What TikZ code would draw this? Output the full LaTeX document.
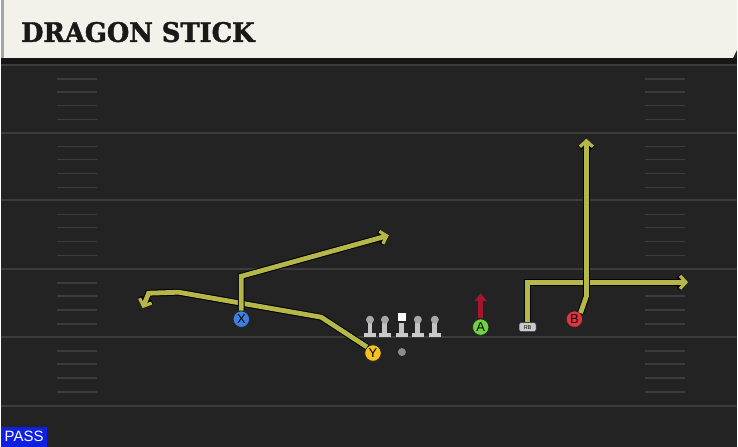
\documentclass[tikz,border=0pt]{standalone}
\usepackage{fontspec}
\setsansfont{Liberation Sans}
\newfontfamily\titlefont[BoldFeatures={FakeBold=1.5}]{DejaVu Serif Condensed}
\usepackage{tikz}
\usetikzlibrary{arrows.meta}
\usetikzlibrary{positioning}
\usetikzlibrary{calc}

\definecolor{fieldbg}{RGB}{35,35,35}
\definecolor{shadowbg}{RGB}{22,22,22}
\definecolor{yardgrey}{RGB}{60,60,60}
\definecolor{headbg}{RGB}{244,241,234}
\definecolor{routecol}{RGB}{181,184,72}
\definecolor{xblue}{RGB}{62,128,226}
\definecolor{yyellow}{RGB}{242,194,34}
\definecolor{agreen}{RGB}{112,210,64}
\definecolor{bred}{RGB}{228,50,66}
\definecolor{blockred}{RGB}{164,22,48}
\definecolor{passblue}{RGB}{16,32,226}
\definecolor{olgrey}{RGB}{196,196,196}

\newcommand{\skill}[4]{\node(#1)[player,fill=#4] at (#2) {#3}}
\newcommand{\lineman}[2]{\node(#1)[olbase] at (#2,336) {};
  \fill[olgrey] ($(#1.north)+(-2.5,0)$) rectangle ++(5,-10);
  \fill[olgrey!85!black] ($(#1.north)+(0,-13)$) circle (4)}

\begin{document}
\begin{tikzpicture}[
        x=1pt, y=-1pt,
        every node/.style={font=\sffamily},
        player/.style={circle,minimum size=16.5pt,inner sep=0pt,draw=black!85,
                       line width=0.8pt,font=\sffamily\fontsize{13}{13}\selectfont},
        olbase/.style={rectangle,minimum width=12pt,minimum height=4.5pt,
                       inner sep=0pt,fill=olgrey!90!white},
        yard/.style={yardgrey,line width=2pt},
        hash/.style={yardgrey,line width=1.5pt},
        routeline/.style={routecol,line width=4.8pt,
                          -{Straight Barb[length=6pt,width=13pt,line width=3.2pt]},
                          preaction={draw=black,line width=6.8pt,
                            -{Straight Barb[length=6pt,width=13pt,line width=5pt]}}},
        blockline/.style={blockred,line width=4.5pt,-{Triangle[length=8pt,width=12pt]}}
      ]

      % Field and header
      \fill[fieldbg] (0,0) rectangle (738,448);
      \fill[shadowbg] (0,58) rectangle (738,64);
      \fill[headbg] (0,0) -- (738,0) -- (738,50) -- (734,58) -- (0,58) -- cycle;
      \fill[black!35] (0,0) rectangle (3,58);
      \node(title)[anchor=base west,inner sep=0pt,text=black!90]
        at (20,42) {\resizebox{234pt}{20pt}{\titlefont\bfseries DRAGON STICK}};

      % Yard lines every 5 yards, hash marks in between
      \foreach \l in {65,133,201,270,338,407} {
        \draw[yard] (0,\l) -- (738,\l);
      }
      \foreach \l in {65,133,201,270,338} {
        \foreach \o in {14,27,41,55} {
          \draw[hash] (56,\l+\o) -- (96,\l+\o);
          \draw[hash] (646,\l+\o) -- (686,\l+\o);
        }
      }

      % Offensive line: LT LG C RG RT
      \lineman{lt}{370};
      \lineman{lg}{385};
      \node(c)[olbase] at (402,336) {};
      \fill[olgrey] ($(c.north)+(-2.5,0)$) rectangle ++(5,-10);
      \node(snap)[rectangle,fill=white,minimum size=8pt,inner sep=0pt] at (402,318) {};
      \lineman{rg}{418};
      \lineman{rt}{435};
      \node(qb)[circle,fill=black!45,minimum size=8pt,inner sep=0pt] at (402,353) {};

      % Skill players
      \skill{x}{241,320}{X}{xblue};
      \skill{y}{373,354}{Y}{yyellow};
      \skill{a}{481,328}{A}{agreen};
      \skill{b}{575,320}{B}{bred};
      \node(rb)[rectangle,rounded corners=2pt,fill=olgrey!90!white,draw=black!80,
                line width=0.6pt,minimum width=17pt,minimum height=9pt,inner sep=0pt,
                font=\sffamily\fontsize{5.5}{5.5}\selectfont] at (528,328) {RB};

      % Route turn points
      \coordinate (xturn) at (241,277);
      \coordinate (xend) at (389,236);
      \coordinate (yone) at (321,318);
      \coordinate (ytwo) at (178,293);
      \coordinate (ythree) at (148,294);
      \coordinate (yend) at (142,309);
      \coordinate (rbturn) at (528,283);
      \coordinate (rbend) at (689,283);
      \coordinate (bturn) at (587,297);
      \coordinate (bend) at (587,139);
      \coordinate (aend) at (481,294);

      % Routes
      \draw[routeline] (y.north west) -- (yone) -- (ytwo) -- (ythree) -- (yend);
      \draw[routeline] (x.north) -- (xturn) -- (xend);
      \draw[routeline] (rb.north) -- (rbturn) -- (rbend);
      \draw[routeline] (b.north east) -- (bturn) -- (bend);
      \draw[blockline] (a.north) -- (aend);

      % Play type tag
      \node(playtype)[anchor=south west,fill=passblue,text=white,minimum width=46pt,
                      minimum height=20pt,inner sep=0pt,font=\sffamily\fontsize{15}{15}\selectfont]
        at (0,448) {PASS};

      \useasboundingbox (0,0) rectangle (738,448);
    \end{tikzpicture}
\end{document}
